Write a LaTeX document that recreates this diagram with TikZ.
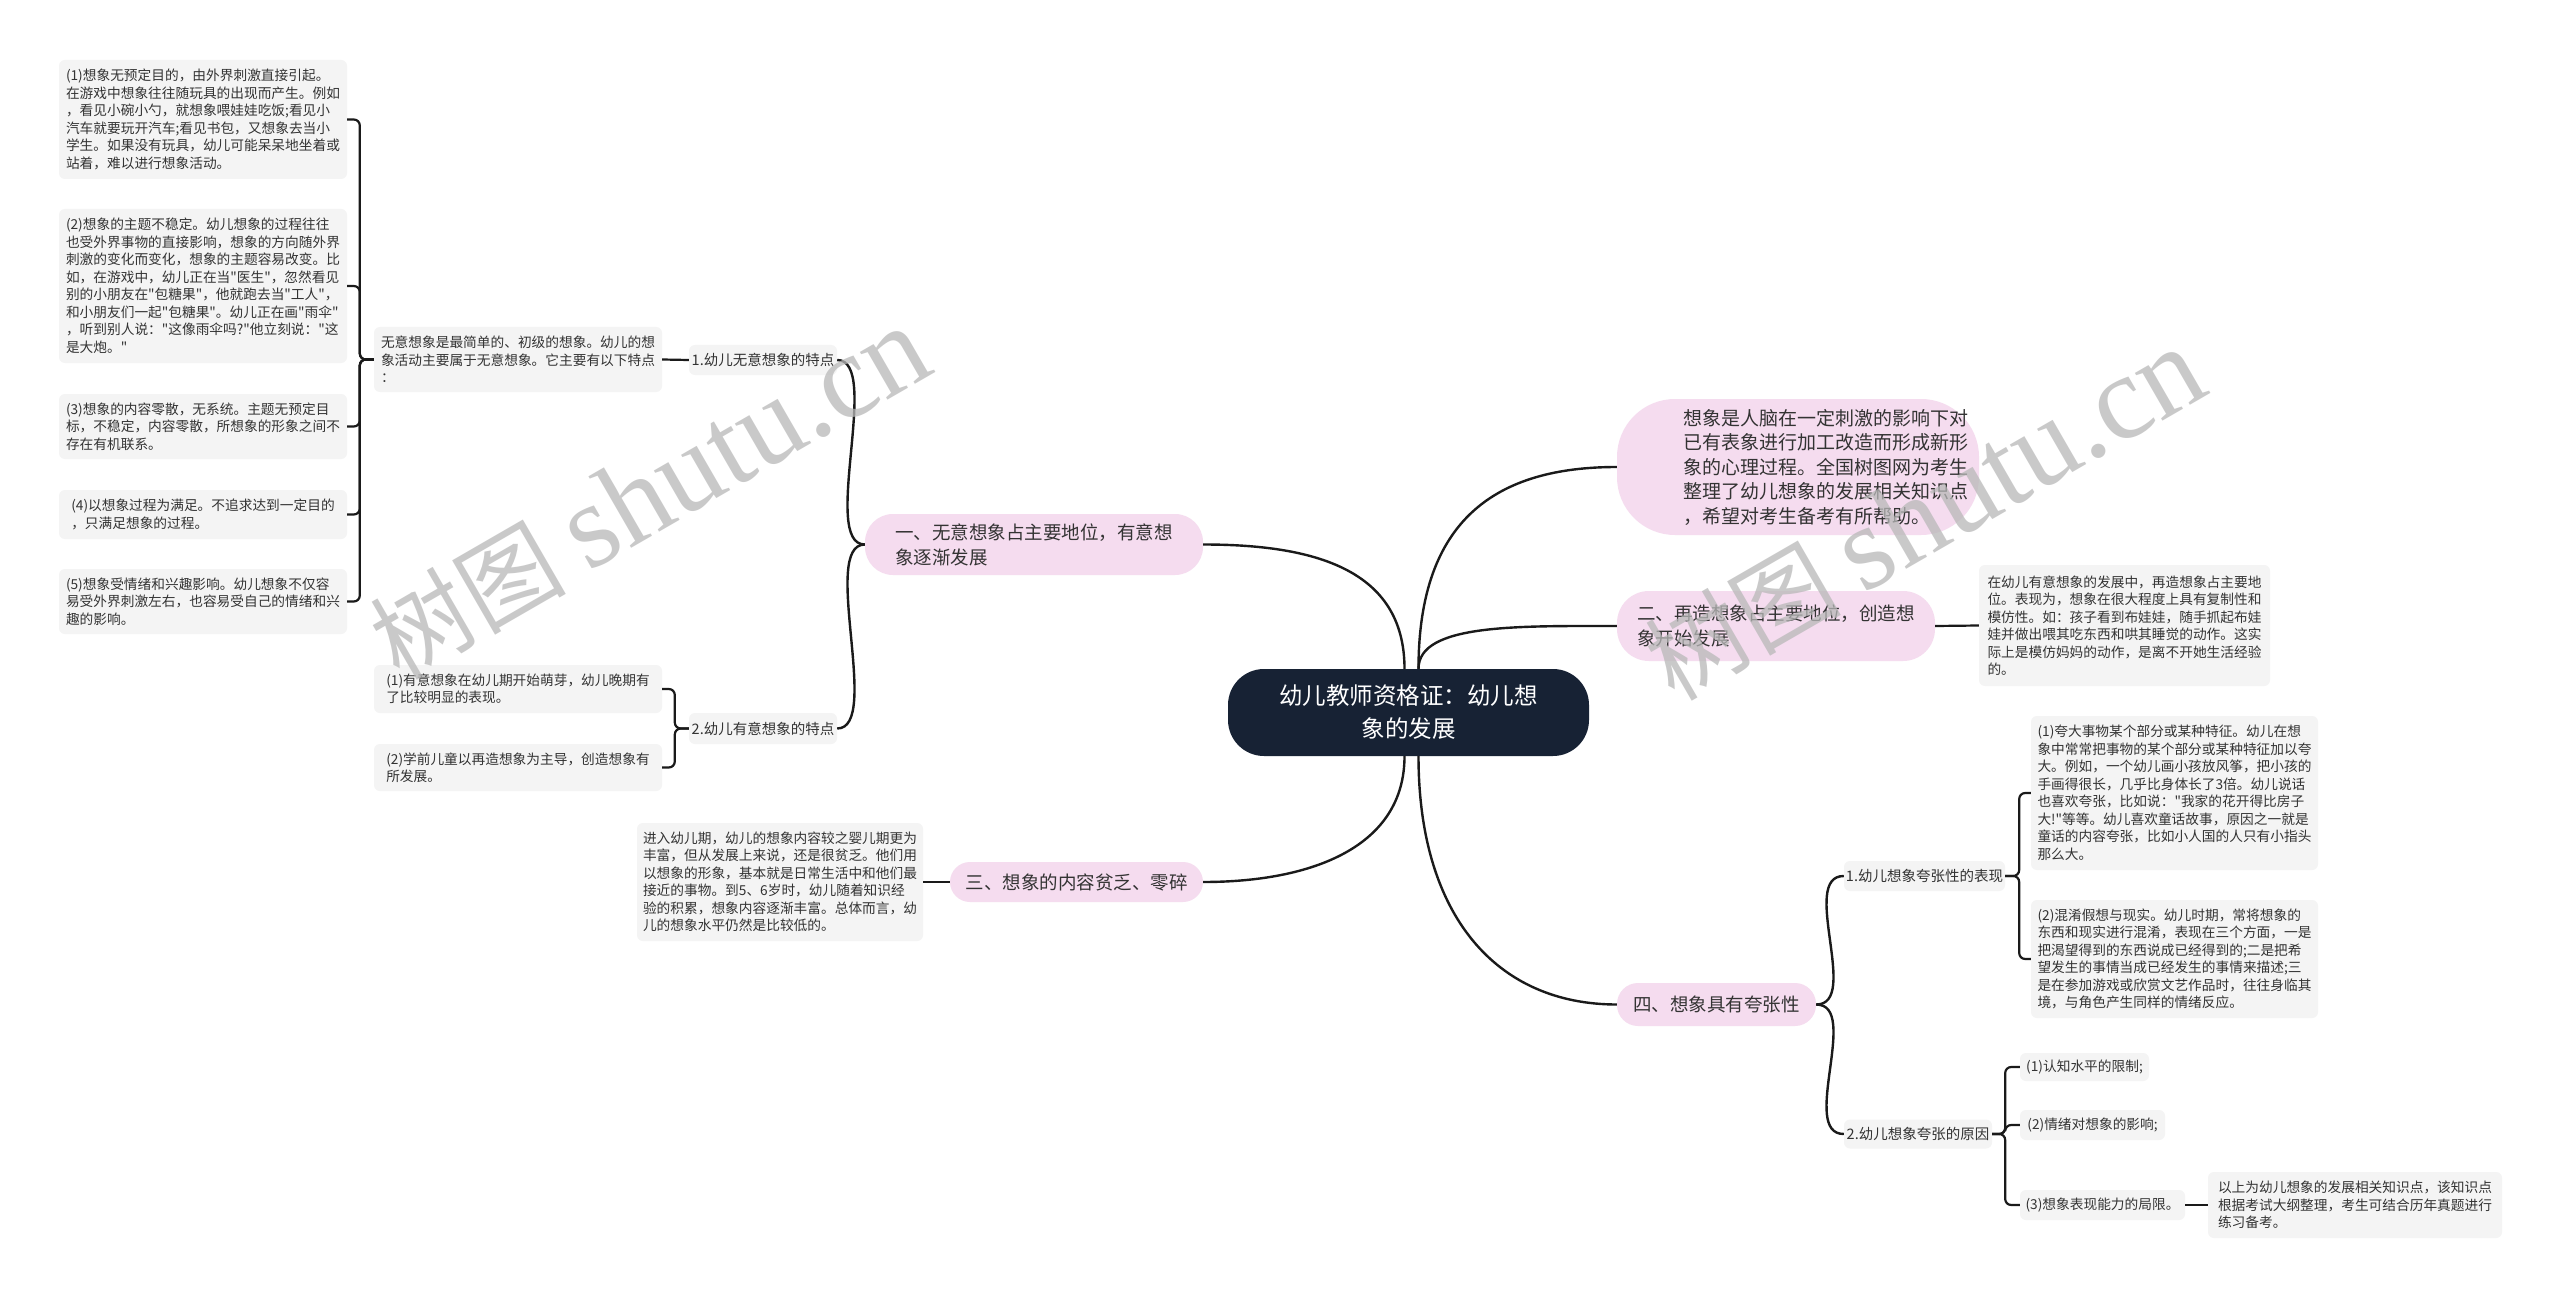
\documentclass[tikz,border=0pt]{standalone}
\usepackage{fontspec}
\setmainfont{Noto Sans CJK SC}[Ligatures=TeXOff]
\newfontfamily\wmlatin{Liberation Serif}
\definecolor{rootc}{HTML}{172234}
\definecolor{pinkc}{HTML}{F5DCEF}
\definecolor{leafc}{HTML}{F4F4F4}
\definecolor{linec}{HTML}{1A1A1A}
\definecolor{txtc}{HTML}{333333}
\definecolor{wmc}{HTML}{B8B8B8}
\begin{document}
\begin{tikzpicture}[x=1pt,y=-1pt,
  box/.style={draw=none, inner sep=0pt, align=left, anchor=center},
  rootbox/.style={box, fill=rootc, text=white, rounded corners=36pt, align=center, font=\fontsize{23.5}{33}\selectfont},
  pinkbox/.style={box, fill=pinkc, text=txtc, font=\fontsize{18.5}{25}\selectfont},
  labelbox/.style={box, fill=leafc, rounded corners=6pt, text=txtc, font=\fontsize{14.5}{17.5}\selectfont},
  leafbox/.style={box, fill=leafc, rounded corners=6pt, text=txtc, font=\fontsize{13.7}{17.5}\selectfont},
  conn/.style={draw=linec, line width=2.4pt},
  brk/.style={draw=linec, line width=2.2pt, rounded corners=6pt},
  wm/.style={text=wmc, text opacity=0.75, rotate=30, anchor=center, inner sep=0pt}
]
\useasboundingbox (0,0) rectangle (2560,1297);
\fill[white] (0,0) rectangle (2560,1297);

% root
\node[rootbox, minimum width=361, minimum height=87] (root) at (1408.5,712.5) {幼儿教师资格证：幼儿想\\象的发展};

% level two
\node[pinkbox, rounded corners=28pt, minimum width=338, minimum height=61] (b1) at (1034,544.5) {一、无意想象占主要地位，有意想\\象逐渐发展};
\node[pinkbox, rounded corners=20pt, minimum width=253, minimum height=40] (b3) at (1076.5,882) {三、想象的内容贫乏、零碎};
\node[pinkbox, rounded corners=58pt, minimum width=362, minimum height=136] (intro) at (1798,467) {};
\node[box, text=txtc, font=\fontsize{19}{24.5}\selectfont] (introtext) at ([xshift=28pt]intro.center) {想象是人脑在一定刺激的影响下对\\已有表象进行加工改造而形成新形\\象的心理过程。全国树图网为考生\\整理了幼儿想象的发展相关知识点\\，希望对考生备考有所帮助。};
\node[pinkbox, rounded corners=32pt, minimum width=318, minimum height=70] (b2) at (1776,626) {二、再造想象占主要地位，创造想\\象开始发展};
\node[pinkbox, rounded corners=21pt, minimum width=199, minimum height=43] (b4) at (1716.5,1004.5) {四、想象具有夸张性};

% left side
\node[labelbox, minimum width=148, minimum height=30] (a1) at (763,360) {1.幼儿无意想象的特点};
\node[labelbox, minimum width=148, minimum height=31] (a2) at (763,728.5) {2.幼儿有意想象的特点};
\node[leafbox, minimum width=288, minimum height=65] (w) at (518,359.5) {无意想象是最简单的、初级的想象。幼儿的想\\象活动主要属于无意想象。它主要有以下特点\\：};
\node[leafbox, minimum width=288, minimum height=119] (l1) at (203,119.5) {(1)想象无预定目的，由外界刺激直接引起。\\在游戏中想象往往随玩具的出现而产生。例如\\，看见小碗小勺，就想象喂娃娃吃饭;看见小\\汽车就要玩开汽车;看见书包，又想象去当小\\学生。如果没有玩具，幼儿可能呆呆地坐着或\\站着，难以进行想象活动。};
\node[leafbox, minimum width=288, minimum height=154] (l2) at (203,286) {(2)想象的主题不稳定。幼儿想象的过程往往\\也受外界事物的直接影响，想象的方向随外界\\刺激的变化而变化，想象的主题容易改变。比\\如，在游戏中，幼儿正在当"医生"，忽然看见\\别的小朋友在"包糖果"，他就跑去当"工人"，\\和小朋友们一起"包糖果"。幼儿正在画"雨伞"\\，听到别人说："这像雨伞吗?"他立刻说："这\\是大炮。"};
\node[leafbox, minimum width=288, minimum height=65] (l3) at (203,426.5) {(3)想象的内容零散，无系统。主题无预定目\\标，不稳定，内容零散，所想象的形象之间不\\存在有机联系。};
\node[leafbox, minimum width=288, minimum height=49] (l4) at (203,514.5) {(4)以想象过程为满足。不追求达到一定目的\\，只满足想象的过程。};
\node[leafbox, minimum width=288, minimum height=65] (l5) at (203,601.5) {(5)想象受情绪和兴趣影响。幼儿想象不仅容\\易受外界刺激左右，也容易受自己的情绪和兴\\趣的影响。};
\node[leafbox, minimum width=288, minimum height=48] (y1) at (518,689) {(1)有意想象在幼儿期开始萌芽，幼儿晚期有\\了比较明显的表现。};
\node[leafbox, minimum width=288, minimum height=47] (y2) at (518,767.5) {(2)学前儿童以再造想象为主导，创造想象有\\所发展。};
\node[leafbox, minimum width=286, minimum height=118] (t3) at (780,882) {进入幼儿期，幼儿的想象内容较之婴儿期更为\\丰富，但从发展上来说，还是很贫乏。他们用\\以想象的形象，基本就是日常生活中和他们最\\接近的事物。到5、6岁时，幼儿随着知识经\\验的积累，想象内容逐渐丰富。总体而言，幼\\儿的想象水平仍然是比较低的。};

% right side
\node[leafbox, minimum width=291, minimum height=121] (t2) at (2124.5,625.5) {在幼儿有意想象的发展中，再造想象占主要地\\位。表现为，想象在很大程度上具有复制性和\\模仿性。如：孩子看到布娃娃，随手抓起布娃\\娃并做出喂其吃东西和哄其睡觉的动作。这实\\际上是模仿妈妈的动作，是离不开她生活经验\\的。};
\node[labelbox, minimum width=161, minimum height=30] (c1) at (1924.5,876) {1.幼儿想象夸张性的表现};
\node[labelbox, minimum width=148, minimum height=29] (c2) at (1918,1134) {2.幼儿想象夸张的原因};
\node[leafbox, minimum width=287, minimum height=154] (r1) at (2174.5,793) {(1)夸大事物某个部分或某种特征。幼儿在想\\象中常常把事物的某个部分或某种特征加以夸\\大。例如，一个幼儿画小孩放风筝，把小孩的\\手画得很长，几乎比身体长了3倍。幼儿说话\\也喜欢夸张，比如说："我家的花开得比房子\\大!"等等。幼儿喜欢童话故事，原因之一就是\\童话的内容夸张，比如小人国的人只有小指头\\那么大。};
\node[leafbox, minimum width=287, minimum height=118] (r2) at (2174.5,959) {(2)混淆假想与现实。幼儿时期，常将想象的\\东西和现实进行混淆，表现在三个方面，一是\\把渴望得到的东西说成已经得到的;二是把希\\望发生的事情当成已经发生的事情来描述;三\\是在参加游戏或欣赏文艺作品时，往往身临其\\境，与角色产生同样的情绪反应。};
\node[leafbox, minimum width=129, minimum height=28] (d1) at (2084.5,1067) {(1)认知水平的限制;};
\node[leafbox, minimum width=145, minimum height=30] (d2) at (2092.5,1125) {(2)情绪对想象的影响;};
\node[leafbox, minimum width=165, minimum height=30] (d3) at (2102.5,1205) {(3)想象表现能力的局限。};
\node[leafbox, minimum width=294, minimum height=66] (e) at (2355,1205) {以上为幼儿想象的发展相关知识点，该知识点\\根据考试大纲整理，考生可结合历年真题进行\\练习备考。};

% connectors from root
\draw[conn] ([xshift=-4pt]root.north) .. controls +(0,-100) and +(110,0) .. (b1.east);
\draw[conn] ([xshift=-4pt]root.south) .. controls +(0,90) and +(110,0) .. (b3.east);
\draw[conn] ([xshift=10pt]root.north) .. controls +(0,-150) and +(-120,0) .. (intro.west);
\draw[conn] ([xshift=10pt]root.north) .. controls +(0,-45) and +(-100,0) .. (b2.west);
\draw[conn] ([xshift=10pt]root.south) .. controls +(0,160) and +(-120,0) .. (b4.west);

% second level curves
\draw[conn] (b1.west) .. controls +(-45,0) and +(45,0) .. (a1.east);
\draw[conn] (b1.west) .. controls +(-45,0) and +(45,0) .. (a2.east);
\draw[conn] (b4.east) .. controls +(45,0) and +(-45,0) .. (c1.west);
\draw[conn] (b4.east) .. controls +(45,0) and +(-45,0) .. (c2.west);

% straight
\draw[brk] (a1.west) -- (w.east);
\draw[brk] (b3.west) -- (t3.east);
\draw[brk] (b2.east) -- (t2.west);
\draw[brk] (d3.east) -- (e.west);

% brackets
\foreach \n in {l1,l2,l3,l4,l5} \draw[brk] (w.west) -- ++(-14,0) |- (\n.east);
\foreach \n in {y1,y2} \draw[brk] (a2.west) -- ++(-14,0) |- (\n.east);
\foreach \n in {r1,r2} \draw[brk] (c1.east) -- ++(14,0) |- (\n.west);
\foreach \n in {d1,d2,d3} \draw[brk] (c2.east) -- ++(13,0) |- (\n.west);

% watermarks
\node[wm] (wm1) at (650,494) {\fontsize{98}{100}\selectfont 树图 {\wmlatin\fontsize{120}{120}\selectfont shutu.cn}};
\node[wm] (wm2) at (1925,515) {\fontsize{98}{100}\selectfont 树图 {\wmlatin\fontsize{120}{120}\selectfont shutu.cn}};
\end{tikzpicture}
\end{document}
